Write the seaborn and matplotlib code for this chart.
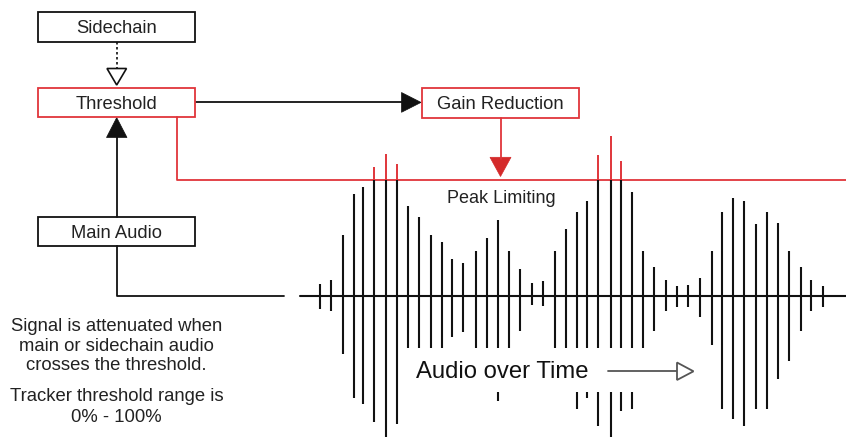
"""Sidechain / threshold peak limiting diagram."""
import matplotlib
matplotlib.use("Agg")
import matplotlib.pyplot as plt
from matplotlib.patches import Rectangle, Polygon
import seaborn as sns

sns.set_theme(style="white")
plt.rcParams["font.family"] = ["Liberation Sans", "DejaVu Sans"]

RED = "#e0353a"
DARK_RED = "#d42a2a"
INK = "#111111"

# waveform: x position, top and bottom of each spike (pixel space, y down)
spike_x = [320, 330.7, 343.3, 354, 362.7, 374, 386, 396.7, 407.7, 418.7,
           430.7, 441.7, 452.3, 463.3, 475.7, 486.7, 497.7, 508.7, 520, 531.7,
           543.3, 555, 565.5, 576.5, 587.3, 598.3, 610.7, 621.3, 632.3, 643.3,
           654, 666, 677.3, 688.3, 700, 711.7, 722.3, 733.3, 744.3, 756,
           767.3, 778.3, 789, 800.7, 811.3, 823]
spike_top = [285, 281, 236, 195.3, 188.3, 167.7, 155, 165, 206.7, 217.7,
             236, 243.3, 260, 264.3, 252, 239.3, 220.7, 252, 270, 284.3,
             282.3, 252, 230, 212.7, 202, 156, 137.3, 162.3, 192.7, 252,
             268.3, 281, 287.3, 286, 279.3, 252, 212.7, 199.3, 202, 225.3,
             212.7, 223.7, 252, 268.3, 281, 286.7]
spike_bottom = [310, 311.7, 355, 399.3, 405.3, 423.3, 438, 425, 387, 376,
                358, 352, 338.3, 333.3, 352, 356, 401.7, 352, 331.7, 306,
                307.3, 352, 365, 410, 399.3, 426.7, 438.3, 411.7, 410, 352,
                331.7, 312, 308.3, 308.3, 318.3, 345.7, 410, 420, 426.7, 410,
                410, 380, 362.3, 331.7, 312.3, 308.3]

baseline_y = 296.7
threshold_y = 181

boxes = {
    "Sidechain": (37.7, 13.3, 157, 29.4, INK),
    "Threshold": (37.7, 89.3, 157, 29, RED),
    "Main Audio": (37.7, 218.3, 157, 29, INK),
    "Gain Reduction": (421.7, 89.3, 157.3, 29.4, RED),
}

note_lines = ["Signal is attenuated when", "main or sidechain audio",
              "crosses the threshold."]
note2_lines = ["Tracker threshold range is", "0% - 100%"]


def main():
    fig = plt.figure(figsize=(8.46, 4.39), dpi=100)
    ax = fig.add_axes([0, 0, 1, 1])
    ax.set_xlim(0, 846)
    ax.set_ylim(439, 0)
    ax.axis("off")

    # boxes
    for label, (x, y, w, h, col) in boxes.items():
        ax.add_patch(Rectangle((x, y), w, h, fill=False, edgecolor=col, lw=1.3, zorder=3))
        ax.text(x + w / 2, y + h / 2 + 0.5, label, ha="center", va="center",
                fontsize=13.2, color="#222222", zorder=4)

    # sidechain -> threshold (dotted, open head)
    ax.plot([116.7, 116.7], [42.7, 69], color=INK, lw=1.2, ls=(0, (1.5, 1.5)))
    ax.add_patch(Polygon([(107, 69.5), (126.5, 69.5), (116.7, 86)], closed=True,
                         facecolor="white", edgecolor=INK, lw=1.2))

    # main audio -> threshold (solid, filled head)
    ax.plot([116.7, 116.7], [136, 218.3], color=INK, lw=1.3)
    ax.add_patch(Polygon([(106.5, 138.5), (127, 138.5), (116.7, 118.6)], closed=True,
                         facecolor=INK, edgecolor=INK, lw=0.5))

    # main audio -> waveform
    ax.plot([116.7, 116.7, 284], [247.3, baseline_y, baseline_y], color=INK, lw=1.3)

    # threshold -> gain reduction
    ax.plot([196, 404], [103.3, 103.3], color=INK, lw=1.3)
    ax.add_patch(Polygon([(401.5, 93.5), (401.5, 113.3), (421, 103.4)], closed=True,
                         facecolor=INK, edgecolor=INK, lw=0.5))

    # threshold red line
    ax.plot([176.7, 176.7, 846], [118.3, threshold_y, threshold_y], color=RED, lw=1.3, zorder=2)

    # gain reduction -> threshold line
    ax.plot([500.7, 500.7], [118.7, 160], color=RED, lw=1.3)
    ax.add_patch(Polygon([(490, 158.3), (511, 158.3), (500.5, 177.5)], closed=True,
                         facecolor=DARK_RED, edgecolor=DARK_RED, lw=0.5))

    # waveform
    ax.plot([300, 846], [baseline_y, baseline_y], color=INK, lw=1.5, zorder=2)
    for x, top, bot in zip(spike_x, spike_top, spike_bottom):
        if top < threshold_y:
            ax.vlines(x, top, threshold_y, color=RED, lw=1.4, zorder=2)
            ax.vlines(x, threshold_y, bot, color=INK, lw=1.5, zorder=2)
        else:
            ax.vlines(x, top, bot, color=INK, lw=1.5, zorder=2)

    # white panel behind the time label
    ax.add_patch(Rectangle((401, 348.5), 303, 44.5, facecolor="white", edgecolor="none", zorder=5))
    ax.text(416.5, 372, "Audio over Time", ha="left", va="center", fontsize=17.2,
            color=INK, zorder=6)
    ax.plot([607.7, 677], [372.3, 372.3], color="#555555", lw=1.3, zorder=6)
    ax.add_patch(Polygon([(677, 363.5), (677, 381), (693.5, 372.3)], closed=True,
                         facecolor="white", edgecolor="#555555", lw=1.3, zorder=6))

    ax.text(501, 199, "Peak Limiting", ha="center", va="center", fontsize=13,
            color="#222222")

    for i, line in enumerate(note_lines):
        ax.text(116.7, 326.7 + i * 19.5, line, ha="center", va="center",
                fontsize=13.3, color="#222222")
    for i, line in enumerate(note2_lines):
        ax.text(116.7, 396.7 + i * 21, line, ha="center", va="center",
                fontsize=13.3, color="#222222")

    fig.savefig("out.png", dpi=100, facecolor="white")
    plt.close(fig)


if __name__ == "__main__":
    main()
